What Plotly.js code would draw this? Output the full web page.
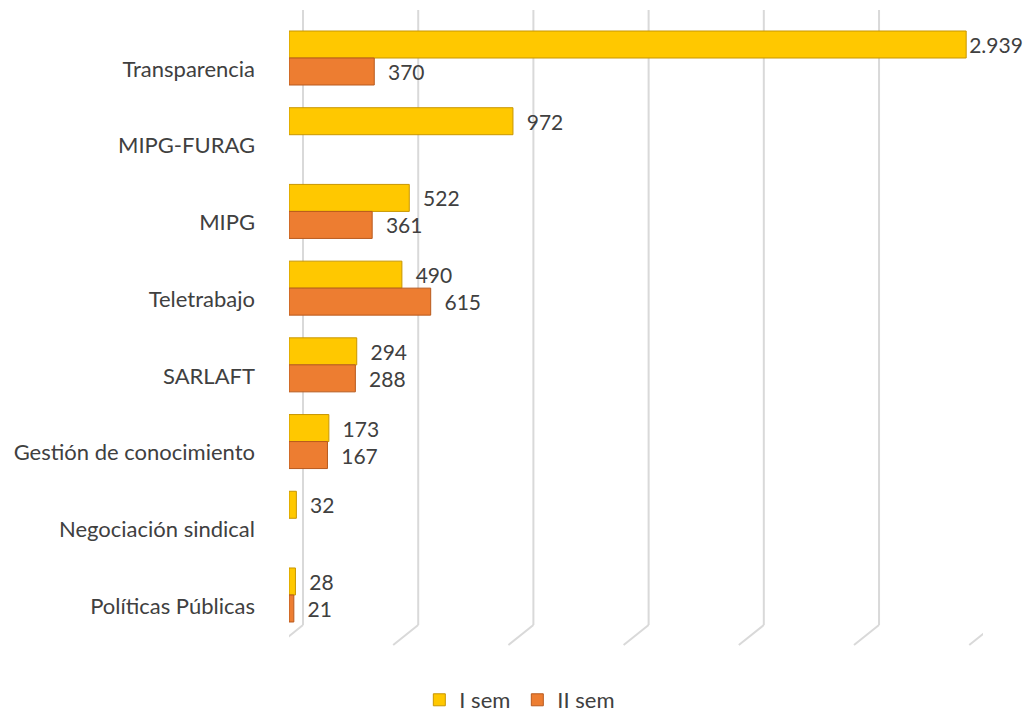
<!DOCTYPE html>
<html>
<head>
<meta charset="utf-8">
<script src="https://cdn.plot.ly/plotly-3.0.1.min.js"></script>
<style>html,body{margin:0;padding:0;background:#fff;}#chart{width:1026px;height:712px;}</style>
</head>
<body>
<div id="chart"></div>
<script>
const categories = ['Transparencia','MIPG-FURAG','MIPG','Teletrabajo','SARLAFT','Gestión de conocimiento','Negociación sindical','Políticas Públicas'];
const semI = [2939, 972, 522, 490, 294, 173, 32, 28];
const semII = [370, null, 361, 615, 288, 167, null, 21];
const seriesNames = ['I sem', 'II sem'];
const gridValues = [0, 500, 1000, 1500, 2000, 2500, 3000];

const FONT = 'Lato, "Open Sans", sans-serif';
const TXT = '#404040';
const labelTpl = arr => arr.map(v => (v !== null && v >= 2500) ? '%{x:,}' : '\u00a0\u00a0%{x:,}');

const traces = [
  {
    type: 'bar', orientation: 'h', name: seriesNames[0],
    y: categories, x: semI,
    marker: {color: '#FFC800', line: {color: '#C89600', width: 1}},
    texttemplate: labelTpl(semI), textposition: 'outside', cliponaxis: false,
    textfont: {family: FONT, size: 21, color: TXT}
  },
  {
    type: 'bar', orientation: 'h', name: seriesNames[1],
    y: categories, x: semII,
    marker: {color: '#ED7D31', line: {color: '#B85A1E', width: 1}},
    texttemplate: labelTpl(semII), textposition: 'outside', cliponaxis: false,
    textfont: {family: FONT, size: 21, color: TXT}
  }
];

const shapes = [];
gridValues.forEach(v => {
  shapes.push({type: 'line', layer: 'below', xref: 'x', xsizemode: 'pixel', xanchor: v,
    x0: 14, x1: 14, yref: 'paper', y0: 0.0315, y1: 1,
    line: {color: '#D9D9D9', width: 2}});
  shapes.push({type: 'line', layer: 'below', xref: 'x', xsizemode: 'pixel', xanchor: v,
    x0: 14, x1: -11, yref: 'paper', y0: 0.0315, y1: 0,
    line: {color: '#D9D9D9', width: 2}});
});

const layout = {
  width: 1026, height: 712,
  margin: {l: 289, r: 42.5, t: 10, b: 67, autoexpand: false},
  paper_bgcolor: '#ffffff', plot_bgcolor: 'rgba(0,0,0,0)',
  separators: ',.',
  barmode: 'group', bargap: 0.296, bargroupgap: 0,
  font: {family: FONT, size: 22, color: TXT},
  showlegend: true,
  legend: {orientation: 'h', x: 0.329, xanchor: 'center', y: -0.0866, yanchor: 'middle',
    entrywidth: 53, entrywidthmode: 'pixels',
    font: {family: FONT, size: 22, color: TXT}, traceorder: 'normal'},
  xaxis: {range: [0, 3012], autorange: false, showgrid: false, zeroline: false,
    showticklabels: false, showline: false, ticks: ''},
  yaxis: {type: 'category', range: [7.652, -0.6257], autorange: false,
    showgrid: false, zeroline: false, showline: false, ticks: '',
    ticklabelstandoff: 33, ticklabelshift: -11,
    tickfont: {family: FONT, size: 22, color: TXT}},
  shapes: shapes
};

Plotly.newPlot('chart', traces, layout, {displayModeBar: false, staticPlot: true});
</script>
</body>
</html>
